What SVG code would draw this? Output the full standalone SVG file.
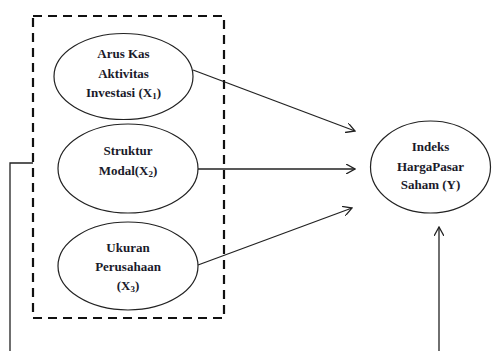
<svg xmlns="http://www.w3.org/2000/svg" width="497" height="351" viewBox="0 0 497 351">
<defs>
<style>
.n{fill:#fff;stroke:#222;stroke-width:1.2}
.t{font-family:"Liberation Serif","Times New Roman",serif;font-weight:bold;font-size:13px;fill:#1a1a2a;text-anchor:middle}
.s{font-size:9px}
.c{stroke:#222;stroke-width:1.3;fill:none}
</style>
<marker id="ah" viewBox="0 0 10 10" refX="9" refY="5" markerWidth="10" markerHeight="10" markerUnits="userSpaceOnUse" orient="auto">
<path d="M0,0 L9,5 L0,10" fill="none" stroke="#222" stroke-width="1.3"/>
</marker>
</defs>
<rect width="497" height="351" fill="#fff"/>
<g id="box">
<rect x="33" y="16" width="191" height="302" fill="none" stroke="#111" stroke-width="2.2" stroke-dasharray="9,6"/>
</g>
<g id="connectors">
<line class="c" x1="193" y1="70" x2="355" y2="131" marker-end="url(#ah)"/>
<line class="c" x1="198" y1="169" x2="355" y2="169" marker-end="url(#ah)"/>
<line class="c" x1="198" y1="265" x2="352" y2="208" marker-end="url(#ah)"/>
<line class="c" x1="439" y1="351" x2="439" y2="227" marker-end="url(#ah)"/>
<path class="c" d="M10,351 L10,163 L33,163"/>
</g>
<g id="x1">
<ellipse class="n" cx="123.5" cy="76.5" rx="69.5" ry="43"/>
<text class="t" x="123.5" y="58">Arus Kas</text>
<text class="t" x="123.5" y="78">Aktivitas</text>
<text class="t" x="123.5" y="97">Investasi (X<tspan class="s" dy="2">1</tspan><tspan dy="-2">)</tspan></text>
</g>
<g id="x2">
<ellipse class="n" cx="128" cy="168.5" rx="70" ry="44.5"/>
<text class="t" x="128" y="155">Struktur</text>
<text class="t" x="128" y="175">Modal(X<tspan class="s" dy="2">2</tspan><tspan dy="-2">)</tspan></text>
</g>
<g id="x3">
<ellipse class="n" cx="128" cy="266" rx="70" ry="44"/>
<text class="t" x="128" y="252">Ukuran</text>
<text class="t" x="128" y="271">Perusahaan</text>
<text class="t" x="128" y="290">(X<tspan class="s" dy="2">3</tspan><tspan dy="-2">)</tspan></text>
</g>
<g id="y">
<ellipse class="n" cx="430.5" cy="167" rx="60" ry="46"/>
<text class="t" x="430.5" y="151">Indeks</text>
<text class="t" x="430.5" y="171">HargaPasar</text>
<text class="t" x="430.5" y="189">Saham (Y)</text>
</g>
</svg>
